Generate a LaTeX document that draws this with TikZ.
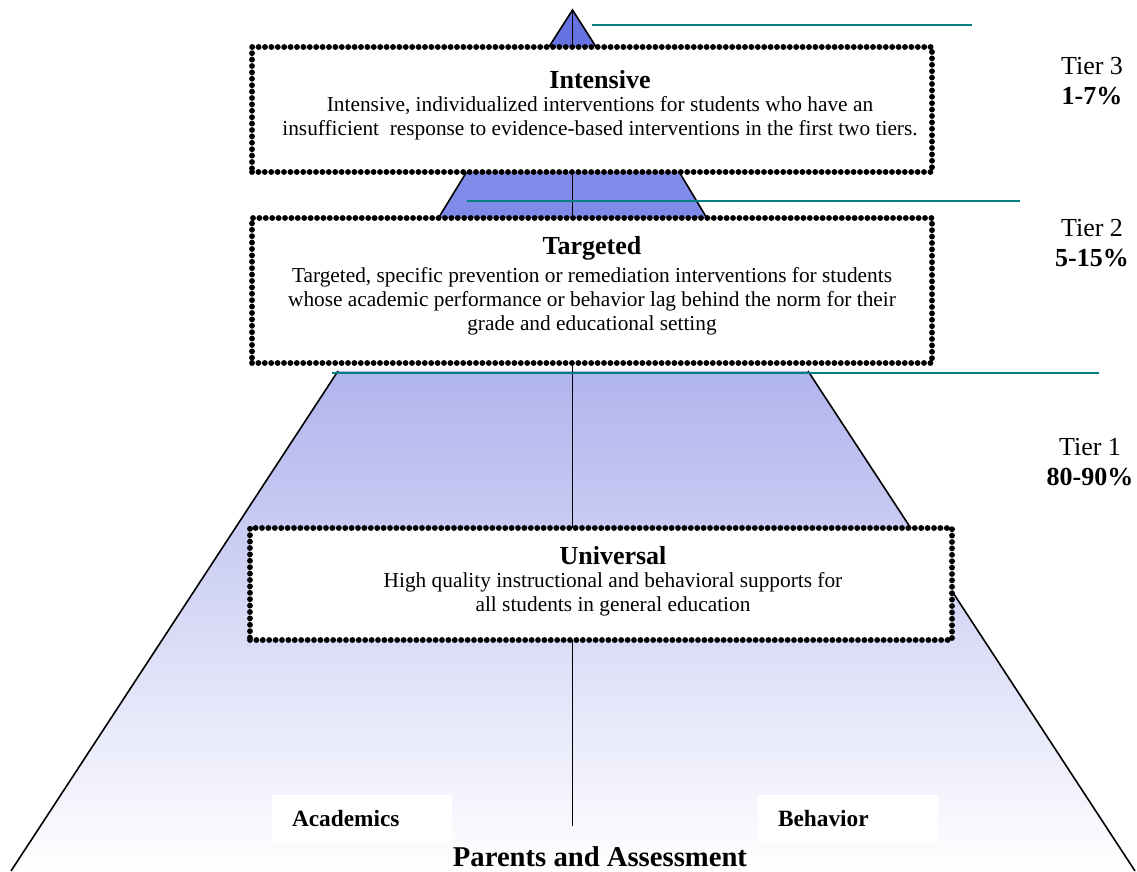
\documentclass[tikz,border=0pt]{standalone}
\usepackage{fontspec}
\setmainfont{Liberation Serif}
\usetikzlibrary{positioning}
\definecolor{tealline}{RGB}{0,128,128}
\definecolor{topblue}{RGB}{102,114,224}
\definecolor{midblue}{RGB}{128,138,232}
\definecolor{lowblue}{RGB}{176,180,237}
\tikzset{
  tierbox/.style={draw=black, fill=white, line width=4.4pt, dash pattern=on 0pt off 4.8pt, line cap=round, inner sep=0pt, outer sep=0pt},
  head/.style={font=\fontsize{19.5}{22}\selectfont\bfseries},
  body/.style={font=\fontsize{16}{18}\selectfont, align=center},
  tierlbl/.style={font=\fontsize{19.5}{22.5}\selectfont, align=center},
  pillar/.style={font=\fontsize{17.5}{20}\selectfont\bfseries, fill=white, text width=105pt, align=left, inner xsep=15pt, minimum height=35.25pt},
  tealrule/.style={draw=tealline, line width=1.5pt},
  pyredge/.style={draw=black, line width=1.2pt}
}

\begin{document}
\begin{tikzpicture}[x=0.75pt, y=-0.75pt]
\useasboundingbox (0,0) rectangle (1137,871);
\coordinate (apex) at (572.5,10);
\coordinate (foot) at (572.5,826);
% pyramid
\filldraw[pyredge, fill=topblue] (apex) -- (515,100) -- (630,100) -- cycle;
\filldraw[pyredge, fill=midblue] (480,150) -- (666,150) -- (720,240) -- (425,240) -- cycle;
\shade[top color=lowblue, bottom color=white] (338,371) -- (808,371) -- (1135,871) -- (11,871) -- cycle;
\draw[pyredge] (338,371) -- (11,871);
\draw[pyredge] (808,371) -- (1135,871);
\draw[pyredge, line width=1.3pt] (apex) -- (foot);
% tier rules
\draw[tealrule] (592,25) -- (972,25);
\draw[tealrule] (467,201) -- (1020,201);
\draw[tealrule] (332,373) -- (1099,373);
% boxes
\node[tierbox, minimum width=510pt, minimum height=93.75pt] (I) at (592,109.5) {};
\node[tierbox, minimum width=510pt, minimum height=108.75pt] (T) at (592,290.5) {};
\node[tierbox, minimum width=526.5pt, minimum height=84pt] (U) at (601,584) {};
\node[head] (Ih) at (600,80) {Intensive};
\node[body] (It) at (600,118.5) {Intensive, individualized interventions for students who have an\\insufficient\ \ response to evidence-based interventions in the first two tiers.};
\node[head] (Th) at (592,248) {Targeted};
\node[body] (Tt) at (592,301) {Targeted, specific prevention or remediation interventions for students\\whose academic performance or behavior lag behind the norm for their\\grade and educational setting};
\node[head] (Uh) at (613,556) {Universal};
\node[body] (Ut) at (613,594) {High quality instructional and behavioral supports for\\all students in general education};
% tiers
\node[tierlbl] (t3) at (1092,81) {Tier 3\\\textbf{1-7\%}};
\node[tierlbl] (t2) at (1092,243) {Tier 2\\\textbf{5-15\%}};
\node[tierlbl] (t1) at (1090,462) {Tier 1\\\textbf{80-90\%}};
% base
\node[pillar] (A) at (362,818.5) {Academics};
\node[pillar] (B) at (848,818.5) {Behavior};
\node[font=\fontsize{21.5}{24}\selectfont\bfseries] (P) at (600,857) {Parents and Assessment};
\end{tikzpicture}
\end{document}
